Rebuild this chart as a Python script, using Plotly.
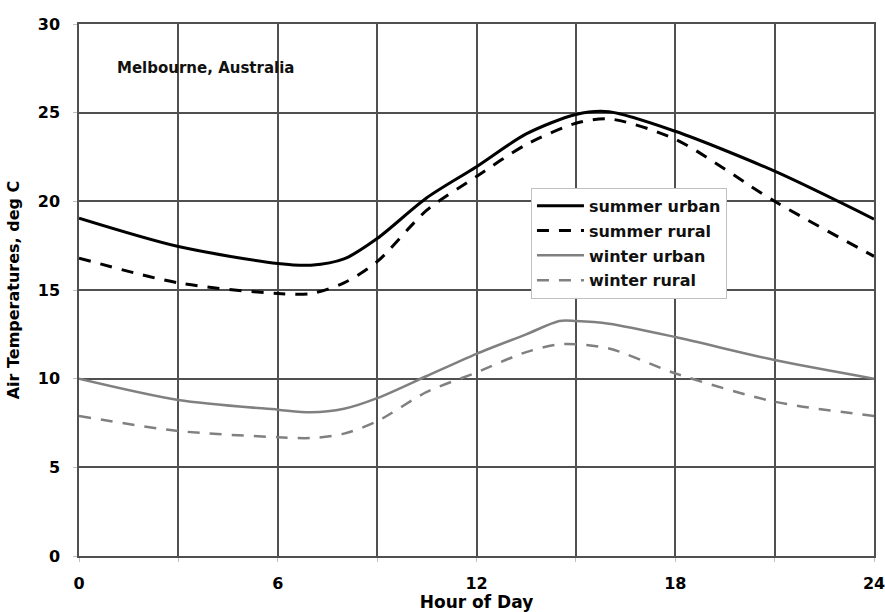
import plotly.graph_objects as go

# Data
su_hours = [0, 3, 6, 7, 8, 9, 10.5, 12, 13.5, 15, 16, 18, 21, 24]
su_vals = [19.05, 17.45, 16.5, 16.4, 16.75, 17.9, 20.2, 21.95, 23.8, 24.9, 25.05, 23.95, 21.7, 19.0]

sr_hours = [0, 3, 6, 7, 8, 9, 10.5, 12, 13.5, 15, 16, 18, 21, 24]
sr_vals = [16.8, 15.4, 14.8, 14.8, 15.4, 16.6, 19.5, 21.4, 23.2, 24.4, 24.65, 23.5, 20.0, 16.9]

wu_hours = [0, 3, 6, 7, 8, 9, 10.5, 12, 13.5, 14.5, 15, 16, 18, 21, 24]
wu_vals = [10.0, 8.8, 8.25, 8.1, 8.3, 8.9, 10.15, 11.4, 12.5, 13.25, 13.25, 13.1, 12.35, 11.05, 10.0]

wr_hours = [0, 3, 6, 7, 8, 9, 10.5, 12, 13.5, 14.6, 16, 18, 21, 24]
wr_vals = [7.9, 7.05, 6.7, 6.65, 6.9, 7.6, 9.25, 10.35, 11.5, 11.95, 11.7, 10.3, 8.7, 7.9]

x_tickvals = [0, 3, 6, 9, 12, 15, 18, 21, 24]
x_ticktext = ["0", "", "6", "", "12", "", "18", "", "24"]
y_tickvals = [0, 5, 10, 15, 20, 25, 30]

fig = go.Figure()
fig.add_trace(go.Scatter(x=su_hours, y=su_vals, mode="lines", name="summer urban", legendgroup="a",
                         line=dict(color="black", width=3, shape="spline", smoothing=0.8)))
fig.add_trace(go.Scatter(x=sr_hours, y=sr_vals, mode="lines", name="summer rural", legendgroup="b",
                         line=dict(color="black", width=3, dash="12px,10px", shape="spline", smoothing=0.8)))
fig.add_trace(go.Scatter(x=wu_hours, y=wu_vals, mode="lines", name="winter urban", legendgroup="c",
                         line=dict(color="#808080", width=2.5, shape="spline", smoothing=0.8)))
fig.add_trace(go.Scatter(x=wr_hours, y=wr_vals, mode="lines", name="winter rural", legendgroup="d",
                         line=dict(color="#808080", width=2.5, dash="12px,10px", shape="spline", smoothing=0.8)))

font_family = "DejaVu Sans, sans-serif"

fig.update_layout(
    width=885, height=612,
    margin=dict(l=79, r=11, t=24, b=56, autoexpand=False),
    paper_bgcolor="white", plot_bgcolor="white",
    font=dict(family=font_family, color="black"),
    showlegend=True,
    legend=dict(x=0.5685, y=0.692, xanchor="left", yanchor="top",
                bgcolor="white", bordercolor="#c0c0c0", borderwidth=1,
                font=dict(size=16, family=font_family, color="#111", weight="bold"),
                tracegroupgap=1, itemwidth=47),
    xaxis=dict(range=[0, 24], tickvals=x_tickvals, ticktext=x_ticktext, automargin=False,
               showgrid=True, gridcolor="#505050", gridwidth=1.5,
               showline=True, linecolor="#505050", linewidth=1.5, mirror=True,
               zeroline=False, ticks="outside", ticklen=4, tickcolor="#c0c0c0",
               ticklabelstandoff=8, ticklabeloverflow="allow",
               tickfont=dict(size=16, family=font_family, weight="bold"),
               title=dict(text="<b>Hour of Day</b>", font=dict(size=17), standoff=0)),
    yaxis=dict(range=[0, 30], tickvals=y_tickvals, automargin=False,
               showgrid=True, gridcolor="#505050", gridwidth=1.5,
               showline=True, linecolor="#505050", linewidth=1.5, mirror=True,
               zeroline=False, ticks="outside", ticklen=4, tickcolor="#c0c0c0",
               ticklabelstandoff=10, ticklabeloverflow="allow",
               tickfont=dict(size=16, family=font_family, weight="bold"),
               title=dict(text="<b>Air Temperatures, deg C</b>", font=dict(size=16), standoff=14)),
    annotations=[dict(text="<b>Melbourne, Australia</b>", x=0.045, y=0.917,
                      xref="paper", yref="paper", xanchor="left", yanchor="middle",
                      showarrow=False, font=dict(size=15, family=font_family, color="#111"))],
)

fig.write_html("out.html", config={"displayModeBar": False},
               post_script="document.body.style.margin='0';document.body.style.overflow='hidden';")
